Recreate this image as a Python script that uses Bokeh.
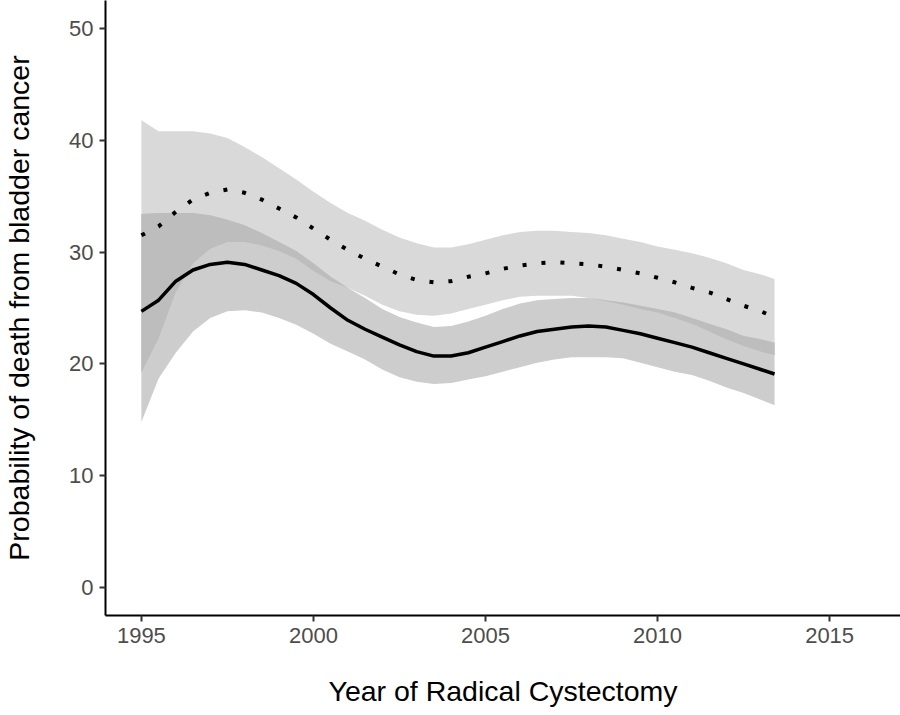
import numpy as np
from bokeh.plotting import figure
from bokeh.models import FixedTicker
from bokeh.embed import file_html
from bokeh.resources import INLINE

years = [1995.0, 1995.5, 1996.0, 1996.5, 1997.0, 1997.5, 1998.0, 1998.5, 1999.0, 1999.5,
         2000.0, 2000.5, 2001.0, 2001.5, 2002.0, 2002.5, 2003.0, 2003.5, 2004.0, 2004.5,
         2005.0, 2005.5, 2006.0, 2006.5, 2007.0, 2007.5, 2008.0, 2008.5, 2009.0, 2009.5,
         2010.0, 2010.5, 2011.0, 2011.5, 2012.0, 2012.5, 2013.0, 2013.4]

# dotted curve and its confidence band
dotted_est = [31.5, 32.3, 33.6, 34.7, 35.3, 35.6, 35.3, 34.7, 33.9, 33.1,
              32.1, 31.1, 30.2, 29.4, 28.7, 28.0, 27.5, 27.3, 27.4, 27.8,
              28.1, 28.5, 28.8, 29.0, 29.1, 29.0, 28.9, 28.7, 28.4, 28.1,
              27.7, 27.3, 26.8, 26.4, 25.8, 25.2, 24.7, 24.2]
dotted_hi = [41.8, 40.8, 40.8, 40.8, 40.6, 40.2, 39.4, 38.5, 37.5, 36.5,
             35.4, 34.4, 33.5, 32.8, 32.0, 31.3, 30.8, 30.4, 30.4, 30.7,
             31.1, 31.5, 31.8, 31.9, 31.9, 31.8, 31.7, 31.5, 31.2, 30.9,
             30.5, 30.2, 29.9, 29.5, 29.0, 28.4, 28.0, 27.6]
dotted_lo = [19.2, 22.3, 26.4, 29.0, 30.3, 30.9, 30.9, 30.6, 30.1, 29.4,
             28.3, 27.4, 26.8, 26.1, 25.3, 24.7, 24.4, 24.3, 24.5, 24.9,
             25.3, 25.7, 26.0, 26.1, 26.1, 26.1, 25.9, 25.6, 25.3, 24.9,
             24.6, 24.1, 23.6, 22.9, 22.2, 21.6, 21.1, 20.8]

# solid curve and its confidence band
solid_est = [24.7, 25.7, 27.4, 28.4, 28.9, 29.1, 28.9, 28.4, 27.9, 27.2,
             26.2, 25.0, 23.9, 23.1, 22.4, 21.7, 21.1, 20.7, 20.7, 21.0,
             21.5, 22.0, 22.5, 22.9, 23.1, 23.3, 23.4, 23.3, 23.0, 22.7,
             22.3, 21.9, 21.5, 21.0, 20.5, 20.0, 19.5, 19.1]
solid_hi = [33.4, 33.5, 33.5, 33.5, 33.3, 32.9, 32.4, 31.7, 30.9, 30.1,
            29.0, 27.8, 26.8, 25.9, 24.9, 24.2, 23.7, 23.3, 23.4, 23.8,
            24.3, 24.9, 25.4, 25.7, 25.8, 25.9, 25.9, 25.7, 25.5, 25.2,
            24.9, 24.6, 24.1, 23.6, 23.1, 22.5, 22.2, 21.9]
solid_lo = [14.8, 18.7, 21.0, 22.9, 24.1, 24.7, 24.8, 24.6, 24.1, 23.5,
            22.7, 21.8, 21.1, 20.4, 19.5, 18.8, 18.4, 18.2, 18.3, 18.6,
            18.9, 19.3, 19.7, 20.1, 20.4, 20.6, 20.6, 20.6, 20.5, 20.1,
            19.7, 19.3, 19.0, 18.5, 17.9, 17.4, 16.8, 16.3]

x_ticks = [1995, 2000, 2005, 2010, 2015]
y_ticks = [0, 10, 20, 30, 40, 50]

FONT = "Liberation Sans"

p = figure(width=900, height=715, x_range=(1993.957, 2017.06), y_range=(-2.5, 52.5),
           output_backend="svg", toolbar_location=None,
           min_border_left=103, min_border_right=0, min_border_top=0, min_border_bottom=100)
p.outline_line_color = None
p.xgrid.visible = False
p.ygrid.visible = False
p.background_fill_color = "white"
p.border_fill_color = "white"

yr = np.array(years)
d_lo = np.array(dotted_lo)
s_hi = np.array(solid_hi)

p.varea(x=yr, y1=dotted_lo, y2=dotted_hi, fill_color="#D9D9D9")
p.varea(x=yr, y1=solid_lo, y2=solid_hi, fill_color="#CDCDCD")
p.varea(x=yr, y1=d_lo, y2=np.maximum(d_lo, s_hi), fill_color="#BDBDBD")

p.line(years, solid_est, line_color="black", line_width=3.5)
p.line(years, dotted_est, line_color="black", line_width=4, line_dash="4 15", line_cap="butt")

for ax, ticks in ((p.xaxis[0], x_ticks), (p.yaxis[0], y_ticks)):
    ax.ticker = FixedTicker(ticks=ticks)
    ax.minor_tick_line_color = None
    ax.axis_line_color = "black"
    ax.axis_line_width = 2
    ax.major_tick_line_color = "#333333"
    ax.major_tick_line_width = 2
    ax.major_tick_out = 6
    ax.major_tick_in = 0
    ax.major_label_text_font = FONT
    ax.major_label_text_font_size = "22px"
    ax.major_label_text_color = "#4D4D4D"
    ax.major_label_standoff = 6
    ax.axis_label_text_font = FONT
    ax.axis_label_text_font_style = "normal"
    ax.axis_label_text_font_size = "28.5px"
    ax.axis_label_text_color = "black"

p.xaxis.axis_label = "Year of Radical Cystectomy"
p.yaxis.axis_label = "Probability of death from bladder cancer"
p.xaxis.axis_label_standoff = 29
p.yaxis.axis_label_standoff = 31

open("out.html", "w").write(file_html(p, INLINE))
